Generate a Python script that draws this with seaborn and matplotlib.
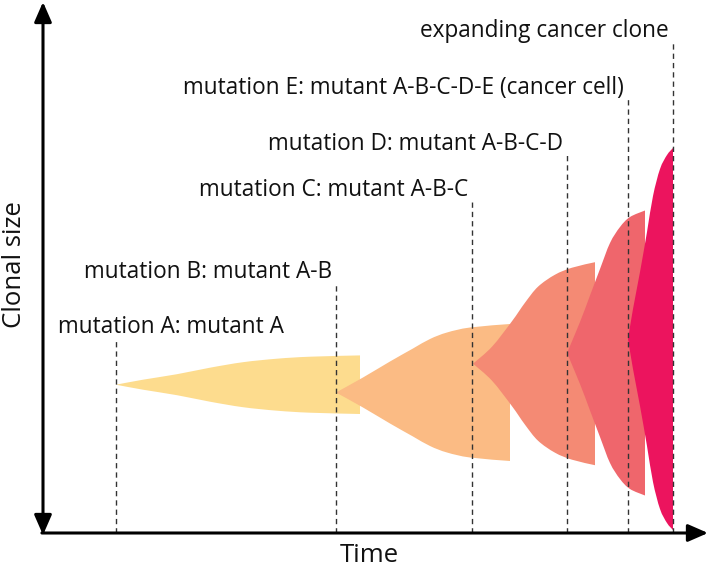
import matplotlib
matplotlib.use("Agg")
import matplotlib.pyplot as plt
import numpy as np
import seaborn as sns
from matplotlib.path import Path
from matplotlib.patches import PathPatch

# clone profiles: time points and half-width (clonal size)
time_a = [73, 100, 134, 167, 200, 234, 267, 317]
size_a = [0, 5, 10.5, 17, 22.5, 26, 28, 29.3]
time_b = [293, 320, 347, 370, 387, 404, 427, 467]
size_b = [0, 15, 31, 44, 53.5, 60, 65, 68.5]
time_c = [430, 449, 469, 482, 495, 512, 529, 552]
size_c = [0, 17, 42.5, 61, 77, 89, 96, 101.5]
time_d = [524, 537, 547, 557, 567, 577, 587, 602]
size_d = [0, 31, 57.5, 84, 110, 126, 136, 142.5]
time_e = [585, 590, 597, 604, 610, 617, 624, 630]
size_e = [0, 30, 67, 107, 143, 170, 184, 191]
centers = [148.3, 140.5, 169.3, 180, 194]

clone_colors = ["#FDDC8E", "#FBBB84", "#F48A74", "#EF666C", "#EC145E"]

# mutation events
event_times = [73, 293, 429, 524, 585, 630]
event_tops = [193, 251, 334, 378, 435, 493]
event_labels = [
    "mutation A: mutant A",
    "mutation B: mutant A-B",
    "mutation C: mutant A-B-C",
    "mutation D: mutant A-B-C-D",
    "mutation E: mutant A-B-C-D-E (cancer cell)",
    "expanding cancer clone",
]
label_heights = [206, 261, 343, 389, 445, 502]


def smooth_edge(xs, ys):
    # bezier segments (Catmull-Rom style) through the read points
    p = np.column_stack([xs, ys]).astype(float)
    p_ext = np.vstack([p[0], p, p[-1]])
    verts, codes = [], []
    for i in range(1, len(p_ext) - 2):
        p0, p1, p2, p3 = p_ext[i - 1], p_ext[i], p_ext[i + 1], p_ext[i + 2]
        c1 = p1 + (p2 - p0) / 6
        c2 = p2 - (p3 - p1) / 6
        verts += [tuple(c1), tuple(c2), tuple(p2)]
        codes += [Path.CURVE4] * 3
    return verts, codes


def clone_patch(t, s, c, color):
    t = np.array(t, dtype=float)
    s = np.array(s, dtype=float)
    top_v, top_c = smooth_edge(t, c + s)
    bot_v, bot_c = smooth_edge(t[::-1], (c - s)[::-1])
    verts = [(t[0], c)] + top_v + [(t[-1], c - s[-1])] + bot_v + [(t[0], c)]
    codes = [Path.MOVETO] + top_c + [Path.LINETO] + bot_c + [Path.CLOSEPOLY]
    return PathPatch(Path(verts, codes), facecolor=color, edgecolor="none", zorder=2)


sns.set_theme(style="white")
plt.rcParams["font.family"] = ["Open Sans", "DejaVu Sans"]

fig = plt.figure(figsize=(7.09, 5.70), dpi=100)
ax = fig.add_axes([0, 0, 1, 1])
ax.set_xlim(-43, 666)
ax.set_ylim(-37, 533)
ax.axis("off")

clones = [(time_a, size_a), (time_b, size_b), (time_c, size_c),
          (time_d, size_d), (time_e, size_e)]
for (t, s), c, col in zip(clones, centers, clone_colors):
    ax.add_patch(clone_patch(t, s, c, col))

for i, (x, top, lab, h) in enumerate(zip(event_times, event_tops, event_labels, label_heights)):
    ax.plot([x, x], [0, top], color="#333333", lw=1.0,
            linestyle=(0, (3.8, 2.9)), zorder=3)
    if i == 0:
        ax.text(15, h, lab, ha="left", va="center", fontsize=16.3, color="#111111")
    else:
        ax.text(x - 4, h, lab, ha="right", va="center", fontsize=16.3, color="#111111")

# axes arrows
ax.annotate("", xy=(0, 531), xytext=(0, -2),
            arrowprops=dict(arrowstyle="<|-|>,head_length=0.55,head_width=0.24",
                            color="black", lw=2.2, mutation_scale=22,
                            shrinkA=0, shrinkB=0), zorder=4)
ax.annotate("", xy=(665, 0), xytext=(-1.1, 0),
            arrowprops=dict(arrowstyle="-|>,head_length=0.55,head_width=0.24",
                            color="black", lw=2.2, mutation_scale=22,
                            shrinkA=0, shrinkB=0), zorder=4)

ax.text(-28, 268, "Clonal size", rotation=90, ha="center", va="center",
        fontsize=18.5, color="#111111")
ax.text(326, -22, "Time", ha="center", va="center", fontsize=18.5, color="#111111")

plt.savefig("out.png", dpi=100)
